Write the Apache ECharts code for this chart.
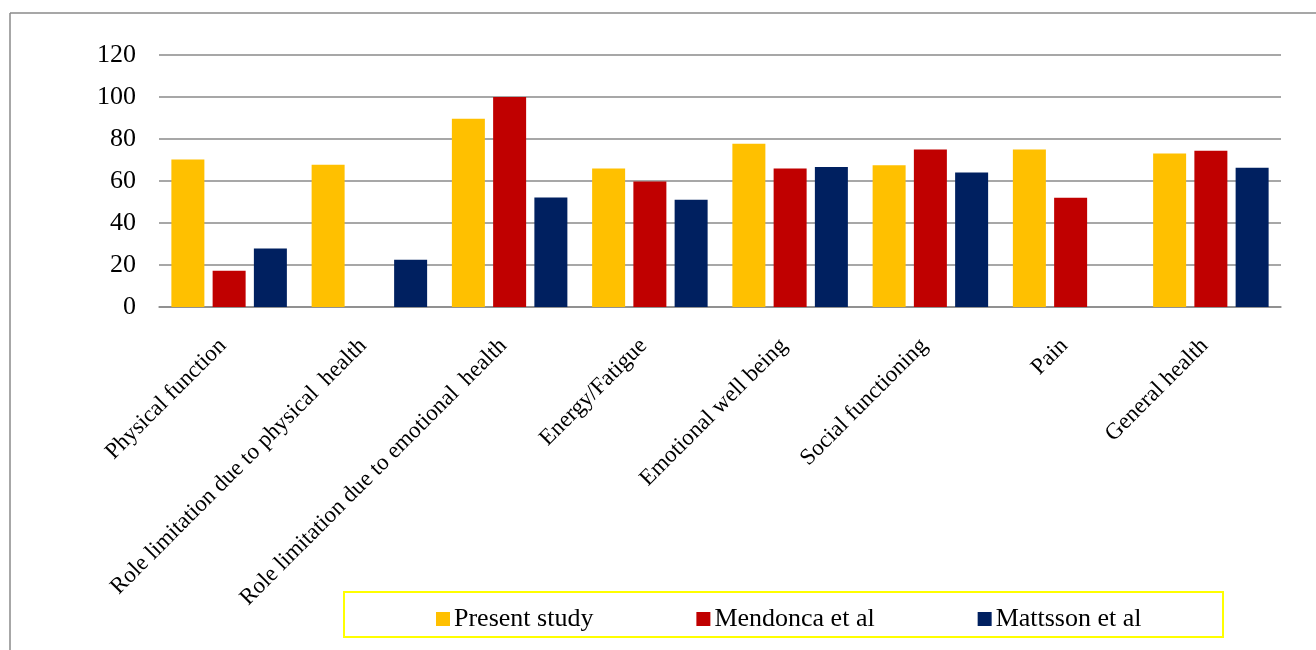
<!DOCTYPE html>
<html>
<head>
<meta charset="utf-8">
<title>SF-36 comparison</title>
<script src="https://cdn.jsdelivr.net/npm/echarts@6/dist/echarts.min.js"></script>
<style>
  html, body { margin: 0; padding: 0; background: #fff; }
  #chart { width: 1316px; height: 650px; }
</style>
</head>
<body>
<div id="chart"></div>
<script>
// categories (x axis)
var categories = [
  'Physical function',
  'Role limitation due to physical  health',
  'Role limitation due to emotional  health',
  'Energy/Fatigue',
  'Emotional well being',
  'Social functioning',
  'Pain',
  'General health'
];
// series values (null = no bar)
var presentStudy = [70.2, 67.7, 89.7, 66, 77.7, 67.5, 75, 73.1];
var mendonca = [17.3, null, 100, 59.8, 66, 75, 52, 74.4];
var mattsson = [27.8, 22.5, 52.2, 51.1, 66.7, 64, null, 66.3];
var seriesNames = ['Present study', 'Mendonca et al', 'Mattsson et al'];
var yTicks = [0, 20, 40, 60, 80, 100, 120];

var font = '"Liberation Serif", "Times New Roman", serif';
var gridColor = '#8a8a8a';

var myChart = echarts.init(document.getElementById('chart'));

var option = {
  animation: false,
  color: ['#FFC000', '#C00000', '#002060'],
  textStyle: { fontFamily: font },
  grid: { left: 159, right: 35, top: 55, height: 252, containLabel: false },
  graphic: [
    // outer frame (top + left edges only visible)
    { type: 'line', shape: { x1: 10, y1: 13, x2: 1316, y2: 13 }, style: { stroke: '#8a8a8a', lineWidth: 1.5 } },
    { type: 'line', shape: { x1: 10, y1: 13, x2: 10, y2: 650 }, style: { stroke: '#8a8a8a', lineWidth: 1.5 } },
    // legend box
    { type: 'rect', shape: { x: 344, y: 592, width: 879, height: 45 }, style: { fill: 'none', stroke: '#ffff00', lineWidth: 2 }, z: 1 }
  ],
  legend: {
    left: 431,
    top: 601,
    itemWidth: 14,
    itemHeight: 14,
    itemGap: 103,
    icon: 'rect',
    textStyle: { fontFamily: font, fontSize: 26, color: '#000', padding: [0, 0, 0, -1] },
    data: seriesNames
  },
  xAxis: {
    type: 'category',
    data: categories,
    axisTick: { show: false },
    axisLine: { lineStyle: { color: gridColor, width: 1.5 } },
    axisLabel: {
      interval: 0,
      rotate: 45,
      margin: 29,
      padding: [0, 9, 0, 0],
      fontFamily: font,
      fontSize: 23,
      color: '#000'
    }
  },
  yAxis: {
    type: 'value',
    min: yTicks[0],
    max: yTicks[yTicks.length - 1],
    interval: 20,
    axisLine: { show: false },
    axisTick: { show: false },
    axisLabel: { margin: 23, fontFamily: font, fontSize: 26, color: '#000' },
    splitLine: { lineStyle: { color: gridColor, width: 1.5 } }
  },
  series: [
    { name: seriesNames[0], type: 'bar', data: presentStudy, barWidth: 33, barGap: '25%' },
    { name: seriesNames[1], type: 'bar', data: mendonca, barWidth: 33, barGap: '25%' },
    { name: seriesNames[2], type: 'bar', data: mattsson, barWidth: 33, barGap: '25%' }
  ]
};

myChart.setOption(option);
</script>
</body>
</html>
